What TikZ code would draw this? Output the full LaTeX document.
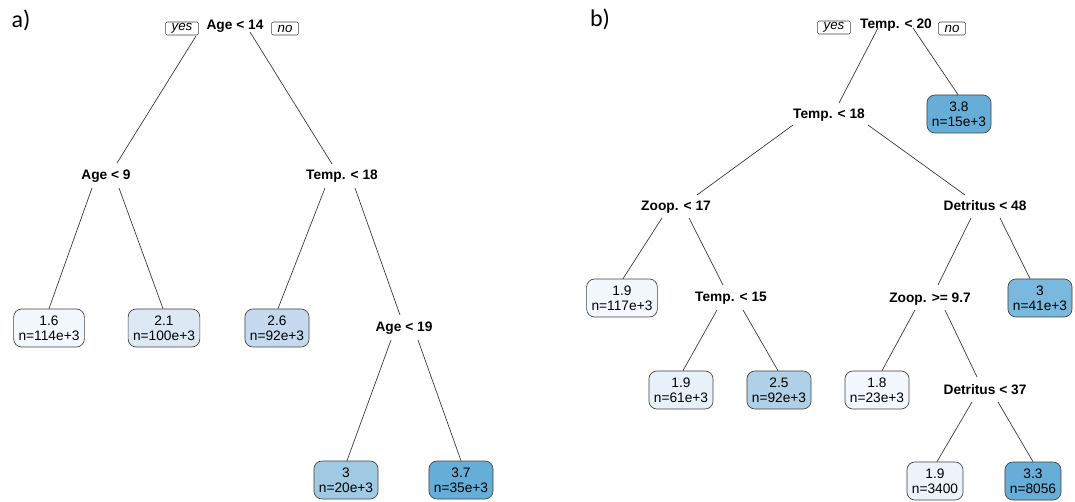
\documentclass[tikz,border=0pt]{standalone}
\usepackage{fontspec}
\setmainfont{Liberation Sans}
\newfontfamily\panelfont{Carlito}
\definecolor{fillA}{HTML}{F3F8FE}
\definecolor{fillB}{HTML}{DDE8F5}
\definecolor{fillC}{HTML}{C5DAEF}
\definecolor{fillD}{HTML}{A0CAE3}
\definecolor{fillE}{HTML}{66ADD7}
\definecolor{fillF}{HTML}{E8F1FA}
\definecolor{fillG}{HTML}{AFD0E7}
\definecolor{fillH}{HTML}{7BB8DE}
\definecolor{fillI}{HTML}{EDF3FB}
\begin{document}
\begin{tikzpicture}[x=0.75pt,y=-0.75pt,
  split/.style={font=\fontsize{10.3}{12}\selectfont\bfseries, inner sep=0pt, text height=7.4pt, text depth=0pt},
  leaf/.style={draw=black!75, line width=0.5pt, fill=#1, rounded corners=6pt, align=center, font=\fontsize{10.3}{11.3}\selectfont, inner xsep=3.7pt, minimum height=28.5pt},
  tag/.style={draw=black!75, line width=0.4pt, rounded corners=1pt, font=\fontsize{10}{10}\selectfont\itshape, inner xsep=4.5pt, inner ysep=0pt, minimum height=9.75pt},
  branch/.style={draw=black!80, line width=0.5pt}]
\useasboundingbox (0,0) rectangle (1075,502);

% panel a
\node[font=\panelfont\fontsize{18}{18}\selectfont] (pa) at (21,20) {a)};
\node[split] (aroot) at (235,25) {Age < 14};
\node[tag] (ayes) at (182,28.5) {yes};
\node[tag] (ano) at (285,28.5) {no};
\node[split] (a9) at (106,175) {Age < 9};
\node[split] (at18) at (342,175) {Temp. < 18};
\node[split] (a19) at (404,327) {Age < 19};
\node[leaf=fillA] (l16) at (49,328) {1.6\\n=114e+3};
\node[leaf=fillB] (l21) at (164,328) {2.1\\n=100e+3};
\node[leaf=fillC] (l26) at (277,328) {2.6\\n=92e+3};
\node[leaf=fillD] (l3) at (346,480) {3\\n=20e+3};
\node[leaf=fillE] (l37) at (461,480) {3.7\\n=35e+3};

\draw[branch] ([shift={(-39,11)}]aroot.center) -- ([shift={(11,-12)}]a9.center);
\draw[branch] ([shift={(15,7)}]aroot.center) -- ([shift={(-10,-11)}]at18.center);
\draw[branch] ([shift={(-14,13)}]a9.center) -- (l16.north);
\draw[branch] ([shift={(13,13)}]a9.center) -- ([shift={(-1,0)}]l21.north);
\draw[branch] ([shift={(-17,13)}]at18.center) -- ([shift={(1,0)}]l26.north);
\draw[branch] ([shift={(13,13)}]at18.center) -- ([shift={(-4,-12)}]a19.center);
\draw[branch] ([shift={(-13,13)}]a19.center) -- ([shift={(1,0)}]l3.north);
\draw[branch] ([shift={(14,13)}]a19.center) -- (l37.north);

% panel b
\node[font=\panelfont\fontsize{18}{18}\selectfont] (pb) at (600,19) {b)};
\node[split] (broot) at (896,24) {Temp. < 20};
\node[tag] (byes) at (834,27.5) {yes};
\node[tag] (bno) at (952,28.5) {no};
\node[split] (bt18) at (829,114) {Temp. < 18};
\node[split] (bz17) at (676,206) {Zoop. < 17};
\node[split] (bd48) at (985,206) {Detritus < 48};
\node[split] (bt15) at (731,297) {Temp. < 15};
\node[split] (bz97) at (930,298) {Zoop. >= 9.7};
\node[split] (bd37) at (985,390) {Detritus < 37};
\node[leaf=fillE] (b38) at (959,114) {3.8\\n=15e+3};
\node[leaf=fillA] (b19a) at (622,298) {1.9\\n=117e+3};
\node[leaf=fillF] (b19b) at (681,390) {1.9\\n=61e+3};
\node[leaf=fillG] (b25) at (779,390) {2.5\\n=92e+3};
\node[leaf=fillA] (b18) at (877,390) {1.8\\n=23e+3};
\node[leaf=fillH] (b3) at (1040,298) {3\\n=41e+3};
\node[leaf=fillI] (b19c) at (935,481) {1.9\\n=3400};
\node[leaf=fillE] (b33) at (1033,481) {3.3\\n=8056};

\draw[branch] ([shift={(-18,4)}]broot.center) -- ([shift={(10,-11)}]bt18.center);
\draw[branch] ([shift={(17,4)}]broot.center) -- ([shift={(-1,0)}]b38.north);
\draw[branch] ([shift={(-36,11)}]bt18.center) -- ([shift={(21,-11)}]bz17.center);
\draw[branch] ([shift={(39,11)}]bt18.center) -- ([shift={(-20,-11)}]bd48.center);
\draw[branch] ([shift={(-14,12)}]bz17.center) -- ([shift={(1,0)}]b19a.north);
\draw[branch] ([shift={(13,12)}]bz17.center) -- ([shift={(-8,-12)}]bt15.center);
\draw[branch] ([shift={(-14,13)}]bt15.center) -- ([shift={(2,0)}]b19b.north);
\draw[branch] ([shift={(12,13)}]bt15.center) -- ([shift={(-1,0)}]b25.north);
\draw[branch] ([shift={(-14,12)}]bd48.center) -- ([shift={(8,-13)}]bz97.center);
\draw[branch] ([shift={(15,12)}]bd48.center) -- ([shift={(-10,0)}]b3.north);
\draw[branch] ([shift={(-15,12)}]bz97.center) -- ([shift={(5,0)}]b18.north);
\draw[branch] ([shift={(15,12)}]bz97.center) -- ([shift={(-8,-13)}]bd37.center);
\draw[branch] ([shift={(-13,12)}]bd37.center) -- ([shift={(2,0)}]b19c.north);
\draw[branch] ([shift={(13,12)}]bd37.center) -- (b33.north);
\end{tikzpicture}
\end{document}
